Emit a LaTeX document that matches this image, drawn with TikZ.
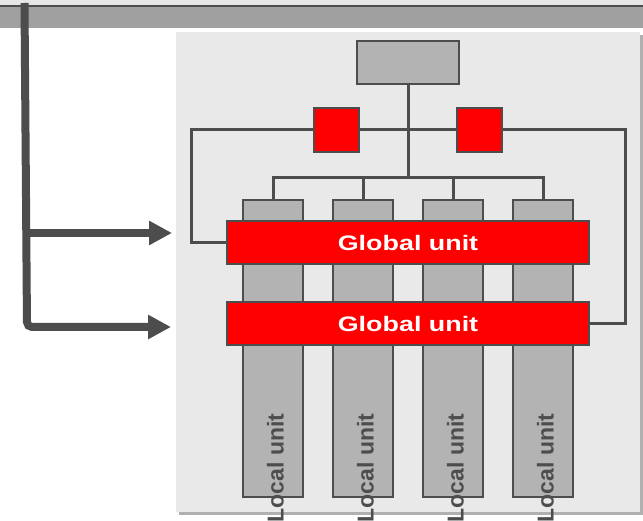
\documentclass[tikz,border=0pt]{standalone}
\usepackage{fontspec}
\setmainfont{Liberation Sans}
\usetikzlibrary{arrows.meta}
\definecolor{linegray}{HTML}{4D4D4D}
\definecolor{boxgray}{HTML}{B3B3B3}
\definecolor{panelgray}{HTML}{E9E9E9}
\definecolor{bandgray}{HTML}{A0A0A0}
\definecolor{topgray}{HTML}{E6E6E6}
\definecolor{shadowgray}{HTML}{B0B0B0}
\tikzset{
  unitbox/.style={draw=linegray, line width=2pt, fill=boxgray, inner sep=0pt},
  localbox/.style={unitbox, minimum width=60pt, minimum height=297pt},
  switchbox/.style={draw=linegray, line width=2pt, fill=red, inner sep=0pt, minimum width=45pt, minimum height=44pt},
  globalbox/.style={draw=linegray, line width=2pt, fill=red, inner sep=0pt, minimum width=362pt, minimum height=43pt, text=white, font=\fontsize{21}{21}\selectfont\bfseries},
  locallabel/.style={rotate=90, inner sep=0pt, text=linegray, font=\fontsize{23}{23}\selectfont\bfseries},
  wire/.style={draw=linegray, line width=3pt},
  feed/.style={draw=linegray, line width=8pt, -{Triangle[length=23pt,width=23pt]}}
}
\begin{document}
\begin{tikzpicture}[x=1pt, y=-1pt]
    \useasboundingbox (0,0) rectangle (643,521);
    \fill[white] (0,0) rectangle (643,521);
    \fill[topgray] (0,0) rectangle (643,6);
    \fill[bandgray] (0,7) rectangle (643,28);
    \draw[linegray, line width=2pt] (0,6) -- (643,6);

    \fill[shadowgray] (179,35) rectangle (643,515);
    \fill[panelgray] (176,32) rectangle (640,512);

    \node[unitbox, minimum width=102pt, minimum height=43pt] (ctrl) at (408,62.5) {};
    \node[switchbox] (swL) at (336.5,130) {};
    \node[switchbox] (swR) at (479,130) {};

    \foreach \i/\x in {1/273, 2/363, 3/453, 4/543}
        \node[localbox] (loc\i) at (\x,348.5) {};

    \node[globalbox] (glob1) at (408,242.5) {\scalebox{1.28}[1]{Global unit}};
    \node[globalbox] (glob2) at (408,323.5) {\scalebox{1.28}[1]{Global unit}};

    \coordinate (busL) at (191,130);
    \coordinate (busR) at (625,130);
    \coordinate (split) at (408,178);

    \draw[wire] (swL.west) -- (busL) |- (glob1.west);
    \draw[wire] (swR.east) -- (busR) |- (glob2.east);
    \draw[wire] (swL.east) -- (swR.west);
    \draw[wire] (ctrl.south) -- (split);
    \foreach \i in {1,...,4}
        \draw[wire] (split) -| (loc\i.north);

    \foreach \i/\x in {1/275.5, 2/365.5, 3/455.5, 4/545.5}
        \node[locallabel] (lab\i) at (\x,468) {Local unit};

    \coordinate (feedtop) at (24.5,3);
    \coordinate (feedbend) at (27,327);
    \coordinate (feedsplit) at (26.3,233);
    \coordinate (in1) at (172,233);
    \coordinate (in2) at (171,327);

    \draw[feed, rounded corners=5pt] (feedtop) -- (feedbend) -- (in2);
    \draw[feed] (feedsplit) -- (in1);
\end{tikzpicture}
\end{document}
